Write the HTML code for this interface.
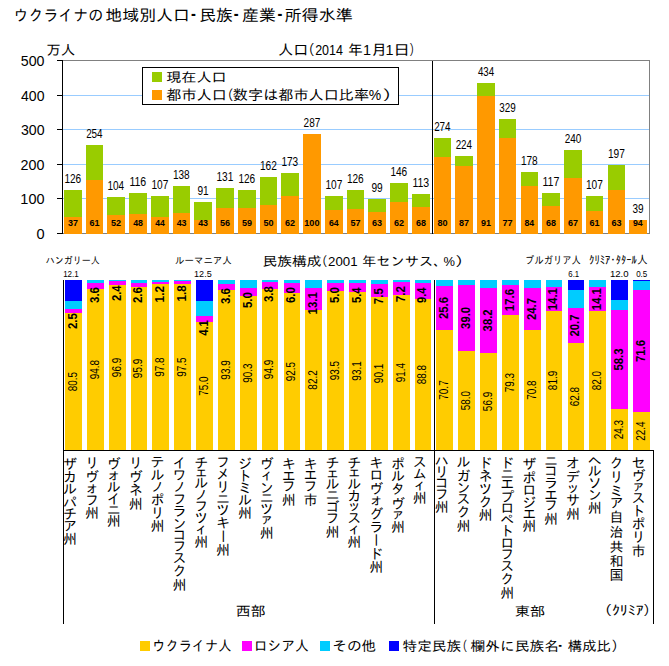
<!DOCTYPE html>
<html lang="ja"><head><meta charset="utf-8"><title>ウクライナの地域別人口・民族・産業・所得水準</title>
<style>html,body{margin:0;padding:0;background:#fff;width:669px;height:666px;overflow:hidden} svg{display:block} text{white-space:pre}</style>
</head><body>
<svg width="669" height="666" viewBox="0 0 669 666" shape-rendering="crispEdges">
<rect x="0" y="0" width="669" height="666" fill="#fff"/>
<rect x="63.00" y="95.00" width="586.00" height="1.00" fill="#99CCFF"/>
<rect x="63.00" y="129.00" width="586.00" height="1.00" fill="#99CCFF"/>
<rect x="63.00" y="164.00" width="586.00" height="1.00" fill="#99CCFF"/>
<rect x="63.00" y="198.00" width="586.00" height="1.00" fill="#99CCFF"/>
<rect x="62.00" y="60.00" width="588.00" height="1.00" fill="#808080"/>
<rect x="62.00" y="233.00" width="588.00" height="1.00" fill="#808080"/>
<rect x="649.00" y="60.00" width="1.00" height="174.00" fill="#808080"/>
<rect x="64.00" y="190.00" width="18.00" height="44.00" fill="#99CC00"/>
<rect x="64.00" y="217.00" width="18.00" height="17.00" fill="#FF9900"/>
<rect x="86.00" y="145.00" width="17.00" height="89.00" fill="#99CC00"/>
<rect x="86.00" y="180.00" width="17.00" height="54.00" fill="#FF9900"/>
<rect x="107.00" y="197.00" width="18.00" height="37.00" fill="#99CC00"/>
<rect x="107.00" y="215.00" width="18.00" height="19.00" fill="#FF9900"/>
<rect x="129.00" y="193.00" width="18.00" height="41.00" fill="#99CC00"/>
<rect x="129.00" y="214.00" width="18.00" height="20.00" fill="#FF9900"/>
<rect x="151.00" y="196.00" width="18.00" height="38.00" fill="#99CC00"/>
<rect x="151.00" y="217.00" width="18.00" height="17.00" fill="#FF9900"/>
<rect x="173.00" y="186.00" width="17.00" height="48.00" fill="#99CC00"/>
<rect x="173.00" y="213.00" width="17.00" height="21.00" fill="#FF9900"/>
<rect x="194.00" y="202.00" width="18.00" height="32.00" fill="#99CC00"/>
<rect x="194.00" y="220.00" width="18.00" height="14.00" fill="#FF9900"/>
<rect x="216.00" y="188.00" width="18.00" height="46.00" fill="#99CC00"/>
<rect x="216.00" y="208.00" width="18.00" height="26.00" fill="#FF9900"/>
<rect x="238.00" y="190.00" width="18.00" height="44.00" fill="#99CC00"/>
<rect x="238.00" y="208.00" width="18.00" height="26.00" fill="#FF9900"/>
<rect x="260.00" y="177.00" width="17.00" height="57.00" fill="#99CC00"/>
<rect x="260.00" y="205.00" width="17.00" height="29.00" fill="#FF9900"/>
<rect x="281.00" y="173.00" width="18.00" height="61.00" fill="#99CC00"/>
<rect x="281.00" y="196.00" width="18.00" height="38.00" fill="#FF9900"/>
<rect x="303.00" y="134.00" width="18.00" height="100.00" fill="#FF9900"/>
<rect x="325.00" y="196.00" width="18.00" height="38.00" fill="#99CC00"/>
<rect x="325.00" y="210.00" width="18.00" height="24.00" fill="#FF9900"/>
<rect x="347.00" y="190.00" width="17.00" height="44.00" fill="#99CC00"/>
<rect x="347.00" y="209.00" width="17.00" height="25.00" fill="#FF9900"/>
<rect x="368.00" y="199.00" width="18.00" height="35.00" fill="#99CC00"/>
<rect x="368.00" y="212.00" width="18.00" height="22.00" fill="#FF9900"/>
<rect x="390.00" y="183.00" width="18.00" height="51.00" fill="#99CC00"/>
<rect x="390.00" y="202.00" width="18.00" height="32.00" fill="#FF9900"/>
<rect x="412.00" y="194.00" width="18.00" height="40.00" fill="#99CC00"/>
<rect x="412.00" y="207.00" width="18.00" height="27.00" fill="#FF9900"/>
<rect x="434.00" y="138.00" width="17.00" height="96.00" fill="#99CC00"/>
<rect x="434.00" y="157.00" width="17.00" height="77.00" fill="#FF9900"/>
<rect x="455.00" y="156.00" width="18.00" height="78.00" fill="#99CC00"/>
<rect x="455.00" y="166.00" width="18.00" height="68.00" fill="#FF9900"/>
<rect x="477.00" y="83.00" width="18.00" height="151.00" fill="#99CC00"/>
<rect x="477.00" y="96.00" width="18.00" height="138.00" fill="#FF9900"/>
<rect x="499.00" y="119.00" width="17.00" height="115.00" fill="#99CC00"/>
<rect x="499.00" y="138.00" width="17.00" height="96.00" fill="#FF9900"/>
<rect x="521.00" y="172.00" width="17.00" height="62.00" fill="#99CC00"/>
<rect x="521.00" y="186.00" width="17.00" height="48.00" fill="#FF9900"/>
<rect x="542.00" y="193.00" width="18.00" height="41.00" fill="#99CC00"/>
<rect x="542.00" y="206.00" width="18.00" height="28.00" fill="#FF9900"/>
<rect x="564.00" y="150.00" width="18.00" height="84.00" fill="#99CC00"/>
<rect x="564.00" y="178.00" width="18.00" height="56.00" fill="#FF9900"/>
<rect x="586.00" y="196.00" width="17.00" height="38.00" fill="#99CC00"/>
<rect x="586.00" y="211.00" width="17.00" height="23.00" fill="#FF9900"/>
<rect x="608.00" y="165.00" width="17.00" height="69.00" fill="#99CC00"/>
<rect x="608.00" y="190.00" width="17.00" height="44.00" fill="#FF9900"/>
<rect x="629.00" y="220.00" width="18.00" height="14.00" fill="#FF9900"/>
<rect x="432.00" y="61.00" width="1.00" height="173.00" fill="#000"/>
<rect x="62.00" y="60.00" width="1.00" height="174.00" fill="#000"/>
<rect x="57.00" y="60.00" width="5.00" height="1.00" fill="#000"/>
<rect x="57.00" y="95.00" width="5.00" height="1.00" fill="#000"/>
<rect x="57.00" y="129.00" width="5.00" height="1.00" fill="#000"/>
<rect x="57.00" y="164.00" width="5.00" height="1.00" fill="#000"/>
<rect x="57.00" y="198.00" width="5.00" height="1.00" fill="#000"/>
<rect x="57.00" y="233.00" width="5.00" height="1.00" fill="#000"/>
<rect x="142.00" y="67.00" width="257.00" height="38.00" fill="#000"/>
<rect x="143.00" y="68.00" width="255.00" height="36.00" fill="#fff"/>
<rect x="152.00" y="72.00" width="10.00" height="10.00" fill="#99CC00"/>
<rect x="152.00" y="90.00" width="10.00" height="10.00" fill="#FF9900"/>
<rect x="65.00" y="313.00" width="17.00" height="137.00" fill="#FFCC00"/>
<rect x="65.00" y="309.00" width="17.00" height="4.00" fill="#FF00FF"/>
<rect x="65.00" y="301.00" width="17.00" height="8.00" fill="#00CCFF"/>
<rect x="65.00" y="280.00" width="17.00" height="21.00" fill="#0000FF"/>
<rect x="87.00" y="289.00" width="17.00" height="161.00" fill="#FFCC00"/>
<rect x="87.00" y="283.00" width="17.00" height="6.00" fill="#FF00FF"/>
<rect x="87.00" y="280.00" width="17.00" height="3.00" fill="#00CCFF"/>
<rect x="109.00" y="285.00" width="17.00" height="165.00" fill="#FFCC00"/>
<rect x="109.00" y="281.00" width="17.00" height="4.00" fill="#FF00FF"/>
<rect x="109.00" y="280.00" width="17.00" height="1.00" fill="#00CCFF"/>
<rect x="131.00" y="287.00" width="16.00" height="163.00" fill="#FFCC00"/>
<rect x="131.00" y="283.00" width="16.00" height="4.00" fill="#FF00FF"/>
<rect x="131.00" y="280.00" width="16.00" height="3.00" fill="#00CCFF"/>
<rect x="152.00" y="284.00" width="17.00" height="166.00" fill="#FFCC00"/>
<rect x="152.00" y="282.00" width="17.00" height="2.00" fill="#FF00FF"/>
<rect x="152.00" y="280.00" width="17.00" height="2.00" fill="#00CCFF"/>
<rect x="174.00" y="284.00" width="17.00" height="166.00" fill="#FFCC00"/>
<rect x="174.00" y="281.00" width="17.00" height="3.00" fill="#FF00FF"/>
<rect x="174.00" y="280.00" width="17.00" height="1.00" fill="#00CCFF"/>
<rect x="196.00" y="322.00" width="17.00" height="128.00" fill="#FFCC00"/>
<rect x="196.00" y="316.00" width="17.00" height="6.00" fill="#FF00FF"/>
<rect x="196.00" y="301.00" width="17.00" height="15.00" fill="#00CCFF"/>
<rect x="196.00" y="280.00" width="17.00" height="21.00" fill="#0000FF"/>
<rect x="218.00" y="290.00" width="17.00" height="160.00" fill="#FFCC00"/>
<rect x="218.00" y="284.00" width="17.00" height="6.00" fill="#FF00FF"/>
<rect x="218.00" y="280.00" width="17.00" height="4.00" fill="#00CCFF"/>
<rect x="240.00" y="296.00" width="17.00" height="154.00" fill="#FFCC00"/>
<rect x="240.00" y="288.00" width="17.00" height="8.00" fill="#FF00FF"/>
<rect x="240.00" y="280.00" width="17.00" height="8.00" fill="#00CCFF"/>
<rect x="262.00" y="289.00" width="16.00" height="161.00" fill="#FFCC00"/>
<rect x="262.00" y="282.00" width="16.00" height="7.00" fill="#FF00FF"/>
<rect x="262.00" y="280.00" width="16.00" height="2.00" fill="#00CCFF"/>
<rect x="284.00" y="293.00" width="16.00" height="157.00" fill="#FFCC00"/>
<rect x="284.00" y="283.00" width="16.00" height="10.00" fill="#FF00FF"/>
<rect x="284.00" y="280.00" width="16.00" height="3.00" fill="#00CCFF"/>
<rect x="305.00" y="310.00" width="17.00" height="140.00" fill="#FFCC00"/>
<rect x="305.00" y="288.00" width="17.00" height="22.00" fill="#FF00FF"/>
<rect x="305.00" y="280.00" width="17.00" height="8.00" fill="#00CCFF"/>
<rect x="327.00" y="291.00" width="17.00" height="159.00" fill="#FFCC00"/>
<rect x="327.00" y="283.00" width="17.00" height="8.00" fill="#FF00FF"/>
<rect x="327.00" y="280.00" width="17.00" height="3.00" fill="#00CCFF"/>
<rect x="349.00" y="292.00" width="17.00" height="158.00" fill="#FFCC00"/>
<rect x="349.00" y="283.00" width="17.00" height="9.00" fill="#FF00FF"/>
<rect x="349.00" y="280.00" width="17.00" height="3.00" fill="#00CCFF"/>
<rect x="371.00" y="297.00" width="17.00" height="153.00" fill="#FFCC00"/>
<rect x="371.00" y="284.00" width="17.00" height="13.00" fill="#FF00FF"/>
<rect x="371.00" y="280.00" width="17.00" height="4.00" fill="#00CCFF"/>
<rect x="393.00" y="295.00" width="17.00" height="155.00" fill="#FFCC00"/>
<rect x="393.00" y="282.00" width="17.00" height="13.00" fill="#FF00FF"/>
<rect x="393.00" y="280.00" width="17.00" height="2.00" fill="#00CCFF"/>
<rect x="415.00" y="299.00" width="16.00" height="151.00" fill="#FFCC00"/>
<rect x="415.00" y="283.00" width="16.00" height="16.00" fill="#FF00FF"/>
<rect x="415.00" y="280.00" width="16.00" height="3.00" fill="#00CCFF"/>
<rect x="436.00" y="330.00" width="17.00" height="120.00" fill="#FFCC00"/>
<rect x="436.00" y="286.00" width="17.00" height="44.00" fill="#FF00FF"/>
<rect x="436.00" y="280.00" width="17.00" height="6.00" fill="#00CCFF"/>
<rect x="458.00" y="351.00" width="17.00" height="99.00" fill="#FFCC00"/>
<rect x="458.00" y="285.00" width="17.00" height="66.00" fill="#FF00FF"/>
<rect x="458.00" y="280.00" width="17.00" height="5.00" fill="#00CCFF"/>
<rect x="480.00" y="353.00" width="17.00" height="97.00" fill="#FFCC00"/>
<rect x="480.00" y="288.00" width="17.00" height="65.00" fill="#FF00FF"/>
<rect x="480.00" y="280.00" width="17.00" height="8.00" fill="#00CCFF"/>
<rect x="502.00" y="315.00" width="17.00" height="135.00" fill="#FFCC00"/>
<rect x="502.00" y="285.00" width="17.00" height="30.00" fill="#FF00FF"/>
<rect x="502.00" y="280.00" width="17.00" height="5.00" fill="#00CCFF"/>
<rect x="524.00" y="330.00" width="17.00" height="120.00" fill="#FFCC00"/>
<rect x="524.00" y="288.00" width="17.00" height="42.00" fill="#FF00FF"/>
<rect x="524.00" y="280.00" width="17.00" height="8.00" fill="#00CCFF"/>
<rect x="546.00" y="311.00" width="16.00" height="139.00" fill="#FFCC00"/>
<rect x="546.00" y="287.00" width="16.00" height="24.00" fill="#FF00FF"/>
<rect x="546.00" y="280.00" width="16.00" height="7.00" fill="#00CCFF"/>
<rect x="568.00" y="343.00" width="16.00" height="107.00" fill="#FFCC00"/>
<rect x="568.00" y="308.00" width="16.00" height="35.00" fill="#FF00FF"/>
<rect x="568.00" y="290.00" width="16.00" height="18.00" fill="#00CCFF"/>
<rect x="568.00" y="280.00" width="16.00" height="10.00" fill="#0000FF"/>
<rect x="589.00" y="311.00" width="17.00" height="139.00" fill="#FFCC00"/>
<rect x="589.00" y="287.00" width="17.00" height="24.00" fill="#FF00FF"/>
<rect x="589.00" y="280.00" width="17.00" height="7.00" fill="#00CCFF"/>
<rect x="611.00" y="409.00" width="17.00" height="41.00" fill="#FFCC00"/>
<rect x="611.00" y="310.00" width="17.00" height="99.00" fill="#FF00FF"/>
<rect x="611.00" y="300.00" width="17.00" height="10.00" fill="#00CCFF"/>
<rect x="611.00" y="280.00" width="17.00" height="20.00" fill="#0000FF"/>
<rect x="633.00" y="412.00" width="17.00" height="38.00" fill="#FFCC00"/>
<rect x="633.00" y="290.00" width="17.00" height="122.00" fill="#FF00FF"/>
<rect x="633.00" y="281.00" width="17.00" height="9.00" fill="#00CCFF"/>
<rect x="633.00" y="280.00" width="17.00" height="1.00" fill="#0000FF"/>
<rect x="434.00" y="280.00" width="1.00" height="344.00" fill="#000"/>
<rect x="63.00" y="280.00" width="1.00" height="344.00" fill="#000"/>
<rect x="653.00" y="450.00" width="1.00" height="174.00" fill="#000"/>
<rect x="63.00" y="450.00" width="591.00" height="1.00" fill="#000"/>
<rect x="140.00" y="641.00" width="10.00" height="10.00" fill="#FFCC00"/>
<rect x="242.00" y="641.00" width="10.00" height="10.00" fill="#FF00FF"/>
<rect x="320.00" y="641.00" width="10.00" height="10.00" fill="#00CCFF"/>
<rect x="389.00" y="641.00" width="10.00" height="10.00" fill="#0000FF"/>
<g shape-rendering="auto">
<text font-family="'Liberation Sans', sans-serif" font-weight="normal" font-size="11.97" fill="#000"><tspan x="64.42" y="182.88" textLength="16.82" lengthAdjust="spacingAndGlyphs">126</tspan></text>
<text font-family="'Liberation Sans', sans-serif" font-weight="bold" font-size="9.86" fill="#000"><tspan x="68.07" y="226.10" textLength="10.01" lengthAdjust="spacingAndGlyphs">37</tspan></text>
<text font-family="'Liberation Sans', sans-serif" font-weight="normal" font-size="11.97" fill="#000"><tspan x="86.13" y="137.88" textLength="16.50" lengthAdjust="spacingAndGlyphs">254</tspan></text>
<text font-family="'Liberation Sans', sans-serif" font-weight="bold" font-size="9.86" fill="#000"><tspan x="89.48" y="226.10" textLength="10.01" lengthAdjust="spacingAndGlyphs">61</tspan></text>
<text font-family="'Liberation Sans', sans-serif" font-weight="normal" font-size="11.97" fill="#000"><tspan x="107.42" y="189.88" textLength="16.71" lengthAdjust="spacingAndGlyphs">104</tspan></text>
<text font-family="'Liberation Sans', sans-serif" font-weight="bold" font-size="9.86" fill="#000"><tspan x="110.98" y="226.10" textLength="10.10" lengthAdjust="spacingAndGlyphs">52</tspan></text>
<text font-family="'Liberation Sans', sans-serif" font-weight="normal" font-size="11.97" fill="#000"><tspan x="129.38" y="185.88" textLength="16.87" lengthAdjust="spacingAndGlyphs">116</tspan></text>
<text font-family="'Liberation Sans', sans-serif" font-weight="bold" font-size="9.86" fill="#000"><tspan x="133.16" y="226.10" textLength="9.82" lengthAdjust="spacingAndGlyphs">48</tspan></text>
<text font-family="'Liberation Sans', sans-serif" font-weight="normal" font-size="11.97" fill="#000"><tspan x="151.41" y="188.88" textLength="16.93" lengthAdjust="spacingAndGlyphs">107</tspan></text>
<text font-family="'Liberation Sans', sans-serif" font-weight="bold" font-size="9.86" fill="#000"><tspan x="155.16" y="226.10" textLength="9.55" lengthAdjust="spacingAndGlyphs">44</tspan></text>
<text font-family="'Liberation Sans', sans-serif" font-weight="normal" font-size="11.97" fill="#000"><tspan x="172.92" y="178.88" textLength="16.82" lengthAdjust="spacingAndGlyphs">138</tspan></text>
<text font-family="'Liberation Sans', sans-serif" font-weight="bold" font-size="9.86" fill="#000"><tspan x="176.66" y="226.10" textLength="9.91" lengthAdjust="spacingAndGlyphs">43</tspan></text>
<text font-family="'Liberation Sans', sans-serif" font-weight="normal" font-size="11.97" fill="#000"><tspan x="197.39" y="194.88" textLength="11.27" lengthAdjust="spacingAndGlyphs">91</tspan></text>
<text font-family="'Liberation Sans', sans-serif" font-weight="bold" font-size="9.86" fill="#000"><tspan x="198.16" y="226.10" textLength="9.91" lengthAdjust="spacingAndGlyphs">43</tspan></text>
<text font-family="'Liberation Sans', sans-serif" font-weight="normal" font-size="11.97" fill="#000"><tspan x="216.41" y="180.88" textLength="16.93" lengthAdjust="spacingAndGlyphs">131</tspan></text>
<text font-family="'Liberation Sans', sans-serif" font-weight="bold" font-size="9.86" fill="#000"><tspan x="219.98" y="226.10" textLength="10.10" lengthAdjust="spacingAndGlyphs">56</tspan></text>
<text font-family="'Liberation Sans', sans-serif" font-weight="normal" font-size="11.97" fill="#000"><tspan x="238.42" y="182.88" textLength="16.82" lengthAdjust="spacingAndGlyphs">126</tspan></text>
<text font-family="'Liberation Sans', sans-serif" font-weight="bold" font-size="9.86" fill="#000"><tspan x="241.98" y="226.10" textLength="10.10" lengthAdjust="spacingAndGlyphs">59</tspan></text>
<text font-family="'Liberation Sans', sans-serif" font-weight="normal" font-size="11.97" fill="#000"><tspan x="259.91" y="169.88" textLength="16.93" lengthAdjust="spacingAndGlyphs">162</tspan></text>
<text font-family="'Liberation Sans', sans-serif" font-weight="bold" font-size="9.86" fill="#000"><tspan x="263.48" y="226.10" textLength="10.10" lengthAdjust="spacingAndGlyphs">50</tspan></text>
<text font-family="'Liberation Sans', sans-serif" font-weight="normal" font-size="11.97" fill="#000"><tspan x="281.42" y="165.88" textLength="16.82" lengthAdjust="spacingAndGlyphs">173</tspan></text>
<text font-family="'Liberation Sans', sans-serif" font-weight="bold" font-size="9.86" fill="#000"><tspan x="284.98" y="226.10" textLength="10.10" lengthAdjust="spacingAndGlyphs">62</tspan></text>
<text font-family="'Liberation Sans', sans-serif" font-weight="normal" font-size="11.97" fill="#000"><tspan x="303.62" y="126.88" textLength="16.71" lengthAdjust="spacingAndGlyphs">287</tspan></text>
<text font-family="'Liberation Sans', sans-serif" font-weight="bold" font-size="9.86" fill="#000"><tspan x="304.28" y="226.10" textLength="15.23" lengthAdjust="spacingAndGlyphs">100</tspan></text>
<text font-family="'Liberation Sans', sans-serif" font-weight="normal" font-size="11.97" fill="#000"><tspan x="325.41" y="188.88" textLength="16.93" lengthAdjust="spacingAndGlyphs">107</tspan></text>
<text font-family="'Liberation Sans', sans-serif" font-weight="bold" font-size="9.86" fill="#000"><tspan x="328.99" y="226.10" textLength="9.73" lengthAdjust="spacingAndGlyphs">64</tspan></text>
<text font-family="'Liberation Sans', sans-serif" font-weight="normal" font-size="11.97" fill="#000"><tspan x="346.92" y="182.88" textLength="16.82" lengthAdjust="spacingAndGlyphs">126</tspan></text>
<text font-family="'Liberation Sans', sans-serif" font-weight="bold" font-size="9.86" fill="#000"><tspan x="350.48" y="226.10" textLength="10.10" lengthAdjust="spacingAndGlyphs">57</tspan></text>
<text font-family="'Liberation Sans', sans-serif" font-weight="normal" font-size="11.97" fill="#000"><tspan x="371.39" y="191.88" textLength="11.27" lengthAdjust="spacingAndGlyphs">99</tspan></text>
<text font-family="'Liberation Sans', sans-serif" font-weight="bold" font-size="9.86" fill="#000"><tspan x="371.98" y="226.10" textLength="10.10" lengthAdjust="spacingAndGlyphs">63</tspan></text>
<text font-family="'Liberation Sans', sans-serif" font-weight="normal" font-size="11.97" fill="#000"><tspan x="390.42" y="175.88" textLength="16.82" lengthAdjust="spacingAndGlyphs">146</tspan></text>
<text font-family="'Liberation Sans', sans-serif" font-weight="bold" font-size="9.86" fill="#000"><tspan x="393.98" y="226.10" textLength="10.10" lengthAdjust="spacingAndGlyphs">62</tspan></text>
<text font-family="'Liberation Sans', sans-serif" font-weight="normal" font-size="11.97" fill="#000"><tspan x="412.38" y="186.88" textLength="16.87" lengthAdjust="spacingAndGlyphs">113</tspan></text>
<text font-family="'Liberation Sans', sans-serif" font-weight="bold" font-size="9.86" fill="#000"><tspan x="415.98" y="226.10" textLength="10.01" lengthAdjust="spacingAndGlyphs">68</tspan></text>
<text font-family="'Liberation Sans', sans-serif" font-weight="normal" font-size="11.97" fill="#000"><tspan x="434.13" y="130.88" textLength="16.50" lengthAdjust="spacingAndGlyphs">274</tspan></text>
<text font-family="'Liberation Sans', sans-serif" font-weight="bold" font-size="9.86" fill="#000"><tspan x="437.48" y="226.10" textLength="10.10" lengthAdjust="spacingAndGlyphs">80</tspan></text>
<text font-family="'Liberation Sans', sans-serif" font-weight="normal" font-size="11.97" fill="#000"><tspan x="455.63" y="148.88" textLength="16.50" lengthAdjust="spacingAndGlyphs">224</tspan></text>
<text font-family="'Liberation Sans', sans-serif" font-weight="bold" font-size="9.86" fill="#000"><tspan x="458.98" y="226.10" textLength="10.10" lengthAdjust="spacingAndGlyphs">87</tspan></text>
<text font-family="'Liberation Sans', sans-serif" font-weight="normal" font-size="11.97" fill="#000"><tspan x="477.93" y="75.88" textLength="16.20" lengthAdjust="spacingAndGlyphs">434</tspan></text>
<text font-family="'Liberation Sans', sans-serif" font-weight="bold" font-size="9.86" fill="#000"><tspan x="480.98" y="226.10" textLength="10.01" lengthAdjust="spacingAndGlyphs">91</tspan></text>
<text font-family="'Liberation Sans', sans-serif" font-weight="normal" font-size="11.97" fill="#000"><tspan x="499.33" y="111.88" textLength="16.50" lengthAdjust="spacingAndGlyphs">329</tspan></text>
<text font-family="'Liberation Sans', sans-serif" font-weight="bold" font-size="9.86" fill="#000"><tspan x="502.38" y="226.10" textLength="10.20" lengthAdjust="spacingAndGlyphs">77</tspan></text>
<text font-family="'Liberation Sans', sans-serif" font-weight="normal" font-size="11.97" fill="#000"><tspan x="520.92" y="164.88" textLength="16.82" lengthAdjust="spacingAndGlyphs">178</tspan></text>
<text font-family="'Liberation Sans', sans-serif" font-weight="bold" font-size="9.86" fill="#000"><tspan x="524.49" y="226.10" textLength="9.73" lengthAdjust="spacingAndGlyphs">84</tspan></text>
<text font-family="'Liberation Sans', sans-serif" font-weight="normal" font-size="11.97" fill="#000"><tspan x="542.38" y="185.88" textLength="16.99" lengthAdjust="spacingAndGlyphs">117</tspan></text>
<text font-family="'Liberation Sans', sans-serif" font-weight="bold" font-size="9.86" fill="#000"><tspan x="545.98" y="226.10" textLength="10.01" lengthAdjust="spacingAndGlyphs">68</tspan></text>
<text font-family="'Liberation Sans', sans-serif" font-weight="normal" font-size="11.97" fill="#000"><tspan x="564.63" y="142.88" textLength="16.61" lengthAdjust="spacingAndGlyphs">240</tspan></text>
<text font-family="'Liberation Sans', sans-serif" font-weight="bold" font-size="9.86" fill="#000"><tspan x="567.98" y="226.10" textLength="10.10" lengthAdjust="spacingAndGlyphs">67</tspan></text>
<text font-family="'Liberation Sans', sans-serif" font-weight="normal" font-size="11.97" fill="#000"><tspan x="585.91" y="188.88" textLength="16.93" lengthAdjust="spacingAndGlyphs">107</tspan></text>
<text font-family="'Liberation Sans', sans-serif" font-weight="bold" font-size="9.86" fill="#000"><tspan x="589.48" y="226.10" textLength="10.01" lengthAdjust="spacingAndGlyphs">61</tspan></text>
<text font-family="'Liberation Sans', sans-serif" font-weight="normal" font-size="11.97" fill="#000"><tspan x="607.91" y="157.88" textLength="16.93" lengthAdjust="spacingAndGlyphs">197</tspan></text>
<text font-family="'Liberation Sans', sans-serif" font-weight="bold" font-size="9.86" fill="#000"><tspan x="611.48" y="226.10" textLength="10.10" lengthAdjust="spacingAndGlyphs">63</tspan></text>
<text font-family="'Liberation Sans', sans-serif" font-weight="normal" font-size="11.97" fill="#000"><tspan x="632.50" y="212.88" textLength="11.16" lengthAdjust="spacingAndGlyphs">39</tspan></text>
<text font-family="'Liberation Sans', sans-serif" font-weight="bold" font-size="9.86" fill="#000"><tspan x="632.99" y="226.10" textLength="9.73" lengthAdjust="spacingAndGlyphs">94</tspan></text>
<text font-family="'Liberation Sans', 'IPAGothic', sans-serif" font-weight="normal" font-size="13.19" fill="#000"><tspan x="166.19" y="81.75" textLength="60.58" lengthAdjust="spacingAndGlyphs">現在人口</tspan></text>
<text font-family="'Liberation Sans', 'IPAGothic', sans-serif" font-weight="normal" font-size="14.02" fill="#000"><tspan x="166.35" y="99.58" textLength="60.52" lengthAdjust="spacingAndGlyphs">都市人口</tspan><tspan x="220.64" y="99.58" textLength="12.86" lengthAdjust="spacingAndGlyphs">（</tspan><tspan x="232.89" y="99.58" textLength="136.16" lengthAdjust="spacingAndGlyphs">数字は都市人口比率</tspan><tspan x="368.78" y="99.58" textLength="12.43" lengthAdjust="spacingAndGlyphs">%</tspan><tspan x="382.15" y="99.58" textLength="19.29" lengthAdjust="spacingAndGlyphs">）</tspan></text>
<text font-family="'Liberation Sans', sans-serif" font-weight="normal" font-size="14.08" fill="#000"><tspan x="20.78" y="65.86" textLength="23.73" lengthAdjust="spacingAndGlyphs">500</tspan></text>
<text font-family="'Liberation Sans', sans-serif" font-weight="normal" font-size="14.08" fill="#000"><tspan x="21.07" y="100.86" textLength="23.44" lengthAdjust="spacingAndGlyphs">400</tspan></text>
<text font-family="'Liberation Sans', sans-serif" font-weight="normal" font-size="14.08" fill="#000"><tspan x="20.93" y="134.86" textLength="23.59" lengthAdjust="spacingAndGlyphs">300</tspan></text>
<text font-family="'Liberation Sans', sans-serif" font-weight="normal" font-size="14.08" fill="#000"><tspan x="20.63" y="169.86" textLength="23.88" lengthAdjust="spacingAndGlyphs">200</tspan></text>
<text font-family="'Liberation Sans', sans-serif" font-weight="normal" font-size="14.08" fill="#000"><tspan x="20.34" y="203.86" textLength="24.19" lengthAdjust="spacingAndGlyphs">100</tspan></text>
<text font-family="'Liberation Sans', sans-serif" font-weight="normal" font-size="14.08" fill="#000"><tspan x="36.41" y="238.86" textLength="8.12" lengthAdjust="spacingAndGlyphs">0</tspan></text>
<text font-family="'Liberation Sans', 'IPAGothic', sans-serif" font-weight="normal" font-size="13.79" fill="#000"><tspan x="46.28" y="54.83" textLength="29.04" lengthAdjust="spacingAndGlyphs">万人</tspan></text>
<text font-family="'Liberation Sans', 'IPAGothic', sans-serif" font-weight="normal" font-size="14.40" fill="#000"><tspan x="278.09" y="54.65" textLength="30.39" lengthAdjust="spacingAndGlyphs">人口</tspan><tspan x="301.41" y="54.65" textLength="13.21" lengthAdjust="spacingAndGlyphs">（</tspan><tspan x="315.18" y="54.65" textLength="27.75" lengthAdjust="spacingAndGlyphs">2014</tspan><tspan x="348.12" y="54.65" textLength="14.72" lengthAdjust="spacingAndGlyphs">年</tspan><tspan x="362.89" y="54.65">1</tspan><tspan x="371.15" y="54.65" textLength="15.88" lengthAdjust="spacingAndGlyphs">月</tspan><tspan x="385.59" y="54.65">1</tspan><tspan x="393.16" y="54.65" textLength="16.88" lengthAdjust="spacingAndGlyphs">日</tspan><tspan x="409.25" y="54.65" textLength="10.71" lengthAdjust="spacingAndGlyphs">）</tspan></text>
<text font-family="'Liberation Sans', 'IPAGothic', sans-serif" font-weight="normal" font-size="15.91" fill="#000"><tspan x="13.62" y="21.17" textLength="89.43" lengthAdjust="spacingAndGlyphs">ウクライナの</tspan><tspan x="105.35" y="21.17" textLength="84.58" lengthAdjust="spacingAndGlyphs">地域別人口</tspan><tspan x="179.62" y="21.17" textLength="27.86" lengthAdjust="spacingAndGlyphs">・</tspan><tspan x="199.19" y="21.17" textLength="33.58" lengthAdjust="spacingAndGlyphs">民族</tspan><tspan x="222.22" y="21.17" textLength="27.86" lengthAdjust="spacingAndGlyphs">・</tspan><tspan x="242.13" y="21.17" textLength="33.72" lengthAdjust="spacingAndGlyphs">産業</tspan><tspan x="266.12" y="21.17" textLength="27.86" lengthAdjust="spacingAndGlyphs">・</tspan><tspan x="284.52" y="21.17" textLength="68.34" lengthAdjust="spacingAndGlyphs">所得水準</tspan></text>
<text transform="translate(72.50 381.50) rotate(-90)" font-family="'Liberation Sans', sans-serif" font-weight="normal" font-size="12.68" fill="#000"><tspan x="-9.65" y="4.37" textLength="19.25" lengthAdjust="spacingAndGlyphs">80.5</tspan></text>
<text transform="translate(72.50 321.10) rotate(-90)" font-family="'Liberation Sans', sans-serif" font-weight="bold" font-size="12.68" fill="#000"><tspan x="-7.94" y="4.37" textLength="15.84" lengthAdjust="spacingAndGlyphs">2.5</tspan></text>
<text transform="translate(94.50 369.50) rotate(-90)" font-family="'Liberation Sans', sans-serif" font-weight="normal" font-size="12.68" fill="#000"><tspan x="-9.65" y="4.37" textLength="19.25" lengthAdjust="spacingAndGlyphs">94.8</tspan></text>
<text transform="translate(94.50 295.10) rotate(-90)" font-family="'Liberation Sans', sans-serif" font-weight="bold" font-size="12.68" fill="#000"><tspan x="-7.83" y="4.37" textLength="15.84" lengthAdjust="spacingAndGlyphs">3.6</tspan></text>
<text transform="translate(116.50 367.50) rotate(-90)" font-family="'Liberation Sans', sans-serif" font-weight="normal" font-size="12.68" fill="#000"><tspan x="-9.65" y="4.37" textLength="19.36" lengthAdjust="spacingAndGlyphs">96.9</tspan></text>
<text transform="translate(116.50 293.10) rotate(-90)" font-family="'Liberation Sans', sans-serif" font-weight="bold" font-size="12.68" fill="#000"><tspan x="-7.93" y="4.37" textLength="15.49" lengthAdjust="spacingAndGlyphs">2.4</tspan></text>
<text transform="translate(138.00 368.50) rotate(-90)" font-family="'Liberation Sans', sans-serif" font-weight="normal" font-size="12.68" fill="#000"><tspan x="-9.65" y="4.37" textLength="19.36" lengthAdjust="spacingAndGlyphs">95.9</tspan></text>
<text transform="translate(138.00 295.10) rotate(-90)" font-family="'Liberation Sans', sans-serif" font-weight="bold" font-size="12.68" fill="#000"><tspan x="-7.94" y="4.37" textLength="15.96" lengthAdjust="spacingAndGlyphs">2.6</tspan></text>
<text transform="translate(159.50 367.00) rotate(-90)" font-family="'Liberation Sans', sans-serif" font-weight="normal" font-size="12.68" fill="#000"><tspan x="-9.65" y="4.37" textLength="19.25" lengthAdjust="spacingAndGlyphs">97.8</tspan></text>
<text transform="translate(159.50 294.10) rotate(-90)" font-family="'Liberation Sans', sans-serif" font-weight="bold" font-size="12.68" fill="#000"><tspan x="-8.30" y="4.37" textLength="16.33" lengthAdjust="spacingAndGlyphs">1.2</tspan></text>
<text transform="translate(181.50 367.00) rotate(-90)" font-family="'Liberation Sans', sans-serif" font-weight="normal" font-size="12.68" fill="#000"><tspan x="-9.65" y="4.37" textLength="19.25" lengthAdjust="spacingAndGlyphs">97.5</tspan></text>
<text transform="translate(181.50 293.10) rotate(-90)" font-family="'Liberation Sans', sans-serif" font-weight="bold" font-size="12.68" fill="#000"><tspan x="-8.30" y="4.37" textLength="16.20" lengthAdjust="spacingAndGlyphs">1.8</tspan></text>
<text transform="translate(203.50 386.00) rotate(-90)" font-family="'Liberation Sans', sans-serif" font-weight="normal" font-size="12.68" fill="#000"><tspan x="-9.75" y="4.37" textLength="19.36" lengthAdjust="spacingAndGlyphs">75.0</tspan></text>
<text transform="translate(203.50 328.10) rotate(-90)" font-family="'Liberation Sans', sans-serif" font-weight="bold" font-size="12.68" fill="#000"><tspan x="-7.71" y="4.37" textLength="15.61" lengthAdjust="spacingAndGlyphs">4.1</tspan></text>
<text transform="translate(225.50 370.00) rotate(-90)" font-family="'Liberation Sans', sans-serif" font-weight="normal" font-size="12.68" fill="#000"><tspan x="-9.65" y="4.37" textLength="19.36" lengthAdjust="spacingAndGlyphs">93.9</tspan></text>
<text transform="translate(225.50 296.10) rotate(-90)" font-family="'Liberation Sans', sans-serif" font-weight="bold" font-size="12.68" fill="#000"><tspan x="-7.83" y="4.37" textLength="15.84" lengthAdjust="spacingAndGlyphs">3.6</tspan></text>
<text transform="translate(247.50 373.00) rotate(-90)" font-family="'Liberation Sans', sans-serif" font-weight="normal" font-size="12.68" fill="#000"><tspan x="-9.65" y="4.37" textLength="19.25" lengthAdjust="spacingAndGlyphs">90.3</tspan></text>
<text transform="translate(247.50 300.10) rotate(-90)" font-family="'Liberation Sans', sans-serif" font-weight="bold" font-size="12.68" fill="#000"><tspan x="-7.94" y="4.37" textLength="15.96" lengthAdjust="spacingAndGlyphs">5.0</tspan></text>
<text transform="translate(269.00 369.50) rotate(-90)" font-family="'Liberation Sans', sans-serif" font-weight="normal" font-size="12.68" fill="#000"><tspan x="-9.65" y="4.37" textLength="19.36" lengthAdjust="spacingAndGlyphs">94.9</tspan></text>
<text transform="translate(269.00 294.10) rotate(-90)" font-family="'Liberation Sans', sans-serif" font-weight="bold" font-size="12.68" fill="#000"><tspan x="-7.83" y="4.37" textLength="15.72" lengthAdjust="spacingAndGlyphs">3.8</tspan></text>
<text transform="translate(291.00 371.50) rotate(-90)" font-family="'Liberation Sans', sans-serif" font-weight="normal" font-size="12.68" fill="#000"><tspan x="-9.65" y="4.37" textLength="19.25" lengthAdjust="spacingAndGlyphs">92.5</tspan></text>
<text transform="translate(291.00 295.10) rotate(-90)" font-family="'Liberation Sans', sans-serif" font-weight="bold" font-size="12.68" fill="#000"><tspan x="-7.94" y="4.37" textLength="15.96" lengthAdjust="spacingAndGlyphs">6.0</tspan></text>
<text transform="translate(312.50 380.00) rotate(-90)" font-family="'Liberation Sans', sans-serif" font-weight="normal" font-size="12.68" fill="#000"><tspan x="-9.65" y="4.37" textLength="19.36" lengthAdjust="spacingAndGlyphs">82.2</tspan></text>
<text transform="translate(312.50 303.15) rotate(-90)" font-family="'Liberation Sans', sans-serif" font-weight="bold" font-size="12.68" fill="#000"><tspan x="-11.34" y="4.37" textLength="22.29" lengthAdjust="spacingAndGlyphs">13.1</tspan></text>
<text transform="translate(334.50 370.50) rotate(-90)" font-family="'Liberation Sans', sans-serif" font-weight="normal" font-size="12.68" fill="#000"><tspan x="-9.65" y="4.37" textLength="19.25" lengthAdjust="spacingAndGlyphs">93.5</tspan></text>
<text transform="translate(334.50 295.10) rotate(-90)" font-family="'Liberation Sans', sans-serif" font-weight="bold" font-size="12.68" fill="#000"><tspan x="-7.94" y="4.37" textLength="15.96" lengthAdjust="spacingAndGlyphs">5.0</tspan></text>
<text transform="translate(356.50 371.00) rotate(-90)" font-family="'Liberation Sans', sans-serif" font-weight="normal" font-size="12.68" fill="#000"><tspan x="-9.65" y="4.37" textLength="19.36" lengthAdjust="spacingAndGlyphs">93.1</tspan></text>
<text transform="translate(356.50 295.10) rotate(-90)" font-family="'Liberation Sans', sans-serif" font-weight="bold" font-size="12.68" fill="#000"><tspan x="-7.93" y="4.37" textLength="15.49" lengthAdjust="spacingAndGlyphs">5.4</tspan></text>
<text transform="translate(378.50 373.50) rotate(-90)" font-family="'Liberation Sans', sans-serif" font-weight="normal" font-size="12.68" fill="#000"><tspan x="-9.65" y="4.37" textLength="19.36" lengthAdjust="spacingAndGlyphs">90.1</tspan></text>
<text transform="translate(378.50 296.10) rotate(-90)" font-family="'Liberation Sans', sans-serif" font-weight="bold" font-size="12.68" fill="#000"><tspan x="-8.06" y="4.37" textLength="15.96" lengthAdjust="spacingAndGlyphs">7.5</tspan></text>
<text transform="translate(400.50 372.50) rotate(-90)" font-family="'Liberation Sans', sans-serif" font-weight="normal" font-size="12.68" fill="#000"><tspan x="-9.64" y="4.37" textLength="19.15" lengthAdjust="spacingAndGlyphs">91.4</tspan></text>
<text transform="translate(400.50 294.10) rotate(-90)" font-family="'Liberation Sans', sans-serif" font-weight="bold" font-size="12.68" fill="#000"><tspan x="-8.06" y="4.37" textLength="16.08" lengthAdjust="spacingAndGlyphs">7.2</tspan></text>
<text transform="translate(422.00 374.50) rotate(-90)" font-family="'Liberation Sans', sans-serif" font-weight="normal" font-size="12.68" fill="#000"><tspan x="-9.65" y="4.37" textLength="19.25" lengthAdjust="spacingAndGlyphs">88.8</tspan></text>
<text transform="translate(422.00 295.10) rotate(-90)" font-family="'Liberation Sans', sans-serif" font-weight="bold" font-size="12.68" fill="#000"><tspan x="-7.93" y="4.37" textLength="15.49" lengthAdjust="spacingAndGlyphs">9.4</tspan></text>
<text transform="translate(443.50 390.00) rotate(-90)" font-family="'Liberation Sans', sans-serif" font-weight="normal" font-size="12.68" fill="#000"><tspan x="-9.75" y="4.37" textLength="19.46" lengthAdjust="spacingAndGlyphs">70.7</tspan></text>
<text transform="translate(443.50 308.00) rotate(-90)" font-family="'Liberation Sans', sans-serif" font-weight="bold" font-size="12.68" fill="#000"><tspan x="-10.99" y="4.37" textLength="22.05" lengthAdjust="spacingAndGlyphs">25.6</tspan></text>
<text transform="translate(465.50 400.50) rotate(-90)" font-family="'Liberation Sans', sans-serif" font-weight="normal" font-size="12.68" fill="#000"><tspan x="-9.65" y="4.37" textLength="19.25" lengthAdjust="spacingAndGlyphs">58.0</tspan></text>
<text transform="translate(465.50 318.00) rotate(-90)" font-family="'Liberation Sans', sans-serif" font-weight="bold" font-size="12.68" fill="#000"><tspan x="-10.88" y="4.37" textLength="21.93" lengthAdjust="spacingAndGlyphs">39.0</tspan></text>
<text transform="translate(487.50 401.50) rotate(-90)" font-family="'Liberation Sans', sans-serif" font-weight="normal" font-size="12.68" fill="#000"><tspan x="-9.65" y="4.37" textLength="19.36" lengthAdjust="spacingAndGlyphs">56.9</tspan></text>
<text transform="translate(487.50 320.50) rotate(-90)" font-family="'Liberation Sans', sans-serif" font-weight="bold" font-size="12.68" fill="#000"><tspan x="-10.88" y="4.37" textLength="21.93" lengthAdjust="spacingAndGlyphs">38.2</tspan></text>
<text transform="translate(509.50 382.50) rotate(-90)" font-family="'Liberation Sans', sans-serif" font-weight="normal" font-size="12.68" fill="#000"><tspan x="-9.75" y="4.37" textLength="19.36" lengthAdjust="spacingAndGlyphs">79.3</tspan></text>
<text transform="translate(509.50 300.00) rotate(-90)" font-family="'Liberation Sans', sans-serif" font-weight="bold" font-size="12.68" fill="#000"><tspan x="-11.34" y="4.37" textLength="22.41" lengthAdjust="spacingAndGlyphs">17.6</tspan></text>
<text transform="translate(531.50 390.00) rotate(-90)" font-family="'Liberation Sans', sans-serif" font-weight="normal" font-size="12.68" fill="#000"><tspan x="-9.75" y="4.37" textLength="19.36" lengthAdjust="spacingAndGlyphs">70.8</tspan></text>
<text transform="translate(531.50 309.00) rotate(-90)" font-family="'Liberation Sans', sans-serif" font-weight="bold" font-size="12.68" fill="#000"><tspan x="-10.99" y="4.37" textLength="22.05" lengthAdjust="spacingAndGlyphs">24.7</tspan></text>
<text transform="translate(553.00 380.50) rotate(-90)" font-family="'Liberation Sans', sans-serif" font-weight="normal" font-size="12.68" fill="#000"><tspan x="-9.65" y="4.37" textLength="19.36" lengthAdjust="spacingAndGlyphs">81.9</tspan></text>
<text transform="translate(553.00 299.00) rotate(-90)" font-family="'Liberation Sans', sans-serif" font-weight="bold" font-size="12.68" fill="#000"><tspan x="-11.34" y="4.37" textLength="22.29" lengthAdjust="spacingAndGlyphs">14.1</tspan></text>
<text transform="translate(575.00 396.50) rotate(-90)" font-family="'Liberation Sans', sans-serif" font-weight="normal" font-size="12.68" fill="#000"><tspan x="-9.75" y="4.37" textLength="19.36" lengthAdjust="spacingAndGlyphs">62.8</tspan></text>
<text transform="translate(575.00 325.50) rotate(-90)" font-family="'Liberation Sans', sans-serif" font-weight="bold" font-size="12.68" fill="#000"><tspan x="-10.99" y="4.37" textLength="22.05" lengthAdjust="spacingAndGlyphs">20.7</tspan></text>
<text transform="translate(596.50 380.50) rotate(-90)" font-family="'Liberation Sans', sans-serif" font-weight="normal" font-size="12.68" fill="#000"><tspan x="-9.65" y="4.37" textLength="19.25" lengthAdjust="spacingAndGlyphs">82.0</tspan></text>
<text transform="translate(596.50 299.00) rotate(-90)" font-family="'Liberation Sans', sans-serif" font-weight="bold" font-size="12.68" fill="#000"><tspan x="-11.34" y="4.37" textLength="22.29" lengthAdjust="spacingAndGlyphs">14.1</tspan></text>
<text transform="translate(618.50 429.50) rotate(-90)" font-family="'Liberation Sans', sans-serif" font-weight="normal" font-size="12.68" fill="#000"><tspan x="-9.75" y="4.37" textLength="19.36" lengthAdjust="spacingAndGlyphs">24.3</tspan></text>
<text transform="translate(618.50 359.50) rotate(-90)" font-family="'Liberation Sans', sans-serif" font-weight="bold" font-size="12.68" fill="#000"><tspan x="-10.99" y="4.37" textLength="22.05" lengthAdjust="spacingAndGlyphs">58.3</tspan></text>
<text transform="translate(640.50 431.00) rotate(-90)" font-family="'Liberation Sans', sans-serif" font-weight="normal" font-size="12.68" fill="#000"><tspan x="-9.74" y="4.37" textLength="19.25" lengthAdjust="spacingAndGlyphs">22.4</tspan></text>
<text transform="translate(640.50 351.00) rotate(-90)" font-family="'Liberation Sans', sans-serif" font-weight="bold" font-size="12.68" fill="#000"><tspan x="-11.11" y="4.37" textLength="22.17" lengthAdjust="spacingAndGlyphs">71.6</tspan></text>
<text font-family="'Liberation Sans', 'IPAGothic', sans-serif" font-weight="normal" font-size="9.89" fill="#000"><tspan x="45.76" y="263.61" textLength="53.89" lengthAdjust="spacingAndGlyphs">ハンガリー人</tspan></text>
<text font-family="'Liberation Sans', sans-serif" font-weight="normal" font-size="9.72" fill="#000"><tspan x="63.14" y="276.90" textLength="15.63" lengthAdjust="spacingAndGlyphs">12.1</tspan></text>
<text font-family="'Liberation Sans', 'IPAGothic', sans-serif" font-weight="normal" font-size="9.77" fill="#000"><tspan x="175.03" y="263.61" textLength="56.75" lengthAdjust="spacingAndGlyphs">ルーマニア人</tspan></text>
<text font-family="'Liberation Sans', sans-serif" font-weight="normal" font-size="9.86" fill="#000"><tspan x="194.06" y="276.90" textLength="17.66" lengthAdjust="spacingAndGlyphs">12.5</tspan></text>
<text font-family="'Liberation Sans', 'IPAGothic', sans-serif" font-weight="normal" font-size="13.04" fill="#000"><tspan x="262.41" y="265.56" textLength="59.23" lengthAdjust="spacingAndGlyphs">民族構成</tspan><tspan x="315.64" y="265.56" textLength="11.79" lengthAdjust="spacingAndGlyphs">（</tspan><tspan x="328.14" y="265.56" textLength="29.47" lengthAdjust="spacingAndGlyphs">2001</tspan><tspan x="358.09" y="265.56" textLength="89.36" lengthAdjust="spacingAndGlyphs"> 年センサス、</tspan><tspan x="443.41" y="265.56" textLength="11.46" lengthAdjust="spacingAndGlyphs">%</tspan><tspan x="455.00" y="265.56" textLength="17.14" lengthAdjust="spacingAndGlyphs">）</tspan></text>
<text font-family="'Liberation Sans', 'IPAGothic', sans-serif" font-weight="normal" font-size="10.66" fill="#000"><tspan x="525.11" y="264.06" textLength="55.66" lengthAdjust="spacingAndGlyphs">ブルガリア人</tspan></text>
<text font-family="'Liberation Sans', sans-serif" font-weight="normal" font-size="9.86" fill="#000"><tspan x="568.31" y="276.90" textLength="10.85" lengthAdjust="spacingAndGlyphs">6.1</tspan></text>
<text font-family="'Liberation Sans', 'IPAGothic', sans-serif" font-weight="normal" font-size="11.63" fill="#000"><tspan x="589.07" y="264.30" textLength="58.46" lengthAdjust="spacingAndGlyphs">ｸﾘﾐｱ･ﾀﾀｰﾙ人</tspan></text>
<text font-family="'Liberation Sans', sans-serif" font-weight="normal" font-size="9.86" fill="#000"><tspan x="609.93" y="276.90" textLength="18.72" lengthAdjust="spacingAndGlyphs">12.0</tspan></text>
<text font-family="'Liberation Sans', sans-serif" font-weight="normal" font-size="9.86" fill="#000"><tspan x="636.16" y="276.90" textLength="11.13" lengthAdjust="spacingAndGlyphs">0.5</tspan></text>
<text font-family="'Liberation Sans', 'IPAGothic', sans-serif" font-weight="normal" font-size="13.63" fill="#000"><tspan x="235.80" y="616.45" textLength="29.95" lengthAdjust="spacingAndGlyphs">西部</tspan></text>
<text font-family="'Liberation Sans', 'IPAGothic', sans-serif" font-weight="normal" font-size="13.08" fill="#000"><tspan x="514.84" y="615.58" textLength="30.53" lengthAdjust="spacingAndGlyphs">東部</tspan></text>
<text font-family="'Liberation Sans', 'IPAGothic', sans-serif" font-weight="normal" font-size="13.37" fill="#000"><tspan x="596.15" y="615.03" textLength="16.07" lengthAdjust="spacingAndGlyphs">（</tspan><tspan x="611.90" y="615.03" textLength="31.94" lengthAdjust="spacingAndGlyphs">ｸﾘﾐｱ</tspan><tspan x="642.98" y="615.03" textLength="14.64" lengthAdjust="spacingAndGlyphs">）</tspan></text>
<text font-family="'Liberation Sans', 'IPAGothic', sans-serif" font-weight="normal" font-size="14.42" fill="#000"><tspan x="152.29" y="650.83" textLength="79.07" lengthAdjust="spacingAndGlyphs">ウクライナ人</tspan></text>
<text font-family="'Liberation Sans', 'IPAGothic', sans-serif" font-weight="normal" font-size="14.42" fill="#000"><tspan x="253.66" y="650.83" textLength="55.03" lengthAdjust="spacingAndGlyphs">ロシア人</tspan></text>
<text font-family="'Liberation Sans', 'IPAGothic', sans-serif" font-weight="normal" font-size="13.93" fill="#000"><tspan x="332.23" y="650.72" textLength="44.00" lengthAdjust="spacingAndGlyphs">その他</tspan></text>
<text font-family="'Liberation Sans', 'IPAGothic', sans-serif" font-weight="normal" font-size="13.59" fill="#000"><tspan x="402.51" y="650.61" textLength="58.57" lengthAdjust="spacingAndGlyphs">特定民族</tspan><tspan x="456.74" y="650.61" textLength="10.71" lengthAdjust="spacingAndGlyphs">（</tspan><tspan x="470.40" y="650.61" textLength="88.51" lengthAdjust="spacingAndGlyphs">欄外に民族名</tspan><tspan x="550.51" y="650.61" textLength="19.29" lengthAdjust="spacingAndGlyphs">・</tspan><tspan x="567.81" y="650.61" textLength="43.05" lengthAdjust="spacingAndGlyphs">構成比</tspan><tspan x="611.32" y="650.61" textLength="13.93" lengthAdjust="spacingAndGlyphs">）</tspan></text>
<text font-family="'Liberation Sans', 'IPAGothic', sans-serif" font-size="14.0"><tspan x="63.10" y="468.52">ザ</tspan><tspan x="63.10" y="481.90">カ</tspan><tspan x="63.10" y="494.17">ル</tspan><tspan x="63.10" y="507.50">パ</tspan><tspan x="63.10" y="518.65">チ</tspan><tspan x="63.10" y="530.99">ア</tspan><tspan x="63.10" y="544.31">州</tspan></text>
<text font-family="'Liberation Sans', 'IPAGothic', sans-serif" font-size="14.0"><tspan x="84.96" y="467.85">リ</tspan><tspan x="84.96" y="482.31">ヴ</tspan><tspan x="84.96" y="493.29">ォ</tspan><tspan x="84.96" y="504.77">フ</tspan><tspan x="84.96" y="517.99">州</tspan></text>
<text font-family="'Liberation Sans', 'IPAGothic', sans-serif" font-size="14.0"><tspan x="106.82" y="468.94">ヴ</tspan><tspan x="106.82" y="479.72">ォ</tspan><tspan x="106.82" y="491.86">ル</tspan><tspan x="106.82" y="504.32">イ</tspan><tspan x="106.82" y="515.01">ニ</tspan><tspan x="106.82" y="526.38">州</tspan></text>
<text font-family="'Liberation Sans', 'IPAGothic', sans-serif" font-size="14.0"><tspan x="128.68" y="467.71">リ</tspan><tspan x="128.68" y="481.86">ヴ</tspan><tspan x="128.68" y="495.23">ネ</tspan><tspan x="128.68" y="508.53">州</tspan></text>
<text font-family="'Liberation Sans', 'IPAGothic', sans-serif" font-size="14.0"><tspan x="150.54" y="467.13">テ</tspan><tspan x="150.54" y="479.74">ル</tspan><tspan x="150.54" y="491.59">ノ</tspan><tspan x="150.54" y="504.90">ポ</tspan><tspan x="150.54" y="517.70">リ</tspan><tspan x="150.54" y="531.41">州</tspan></text>
<text font-family="'Liberation Sans', 'IPAGothic', sans-serif" font-size="14.0"><tspan x="172.40" y="468.02">イ</tspan><tspan x="172.40" y="480.14">ワ</tspan><tspan x="172.40" y="492.46">ノ</tspan><tspan x="172.40" y="503.66">フ</tspan><tspan x="172.40" y="515.98">ラ</tspan><tspan x="172.40" y="528.52">ン</tspan><tspan x="172.40" y="539.51">コ</tspan><tspan x="172.40" y="550.63">フ</tspan><tspan x="172.40" y="562.67">ス</tspan><tspan x="172.40" y="575.77">ク</tspan><tspan x="172.40" y="589.58">州</tspan></text>
<text font-family="'Liberation Sans', 'IPAGothic', sans-serif" font-size="14.0"><tspan x="194.26" y="467.73">チ</tspan><tspan x="194.26" y="477.31">ェ</tspan><tspan x="194.26" y="488.37">ル</tspan><tspan x="194.26" y="500.16">ノ</tspan><tspan x="194.26" y="511.05">フ</tspan><tspan x="194.26" y="523.27">ツ</tspan><tspan x="194.26" y="533.95">ィ</tspan><tspan x="194.26" y="547.34">州</tspan></text>
<text font-family="'Liberation Sans', 'IPAGothic', sans-serif" font-size="14.0"><tspan x="216.12" y="466.60">フ</tspan><tspan x="216.12" y="479.32">メ</tspan><tspan x="216.12" y="492.38">リ</tspan><tspan x="216.12" y="503.69">ニ</tspan><tspan x="216.12" y="514.51">ツ</tspan><tspan x="216.12" y="527.93">キ</tspan><tspan x="217.80" y="529.24" rotate="90">ー</tspan><tspan x="216.12" y="555.19">州</tspan></text>
<text font-family="'Liberation Sans', 'IPAGothic', sans-serif" font-size="14.0"><tspan x="237.98" y="468.60">ジ</tspan><tspan x="237.98" y="480.98">ト</tspan><tspan x="237.98" y="493.36">ミ</tspan><tspan x="237.98" y="505.42">ル</tspan><tspan x="237.98" y="518.15">州</tspan></text>
<text font-family="'Liberation Sans', 'IPAGothic', sans-serif" font-size="14.0"><tspan x="259.84" y="469.14">ヴ</tspan><tspan x="259.84" y="480.26">ィ</tspan><tspan x="259.84" y="492.64">ン</tspan><tspan x="259.84" y="502.98">ニ</tspan><tspan x="259.84" y="513.81">ツ</tspan><tspan x="259.84" y="523.94">ァ</tspan><tspan x="259.84" y="537.58">州</tspan></text>
<text font-family="'Liberation Sans', 'IPAGothic', sans-serif" font-size="14.0"><tspan x="281.70" y="468.57">キ</tspan><tspan x="281.70" y="480.58">エ</tspan><tspan x="281.70" y="491.36">フ</tspan><tspan x="281.70" y="505.40">州</tspan></text>
<text font-family="'Liberation Sans', 'IPAGothic', sans-serif" font-size="14.0"><tspan x="303.56" y="468.53">キ</tspan><tspan x="303.56" y="480.48">エ</tspan><tspan x="303.56" y="491.18">フ</tspan><tspan x="303.56" y="505.43">市</tspan></text>
<text font-family="'Liberation Sans', 'IPAGothic', sans-serif" font-size="14.0"><tspan x="325.42" y="467.88">チ</tspan><tspan x="325.42" y="477.75">ェ</tspan><tspan x="325.42" y="489.08">ル</tspan><tspan x="325.42" y="499.72">ニ</tspan><tspan x="325.42" y="512.18">ゴ</tspan><tspan x="325.42" y="523.32">フ</tspan><tspan x="325.42" y="536.78">州</tspan></text>
<text font-family="'Liberation Sans', 'IPAGothic', sans-serif" font-size="14.0"><tspan x="347.28" y="467.76">チ</tspan><tspan x="347.28" y="477.40">ェ</tspan><tspan x="347.28" y="488.52">ル</tspan><tspan x="347.28" y="501.28">カ</tspan><tspan x="347.28" y="511.40">ッ</tspan><tspan x="347.28" y="523.07">ス</tspan><tspan x="347.28" y="533.54">ィ</tspan><tspan x="347.28" y="547.00">州</tspan></text>
<text font-family="'Liberation Sans', 'IPAGothic', sans-serif" font-size="14.0"><tspan x="369.14" y="468.29">キ</tspan><tspan x="369.14" y="480.18">ロ</tspan><tspan x="369.14" y="493.74">ヴ</tspan><tspan x="369.14" y="504.93">ォ</tspan><tspan x="369.14" y="518.92">グ</tspan><tspan x="369.14" y="531.58">ラ</tspan><tspan x="370.82" y="532.96" rotate="90">ー</tspan><tspan x="369.14" y="558.65">ド</tspan><tspan x="369.14" y="572.29">州</tspan></text>
<text font-family="'Liberation Sans', 'IPAGothic', sans-serif" font-size="14.0"><tspan x="391.00" y="468.90">ポ</tspan><tspan x="391.00" y="481.28">ル</tspan><tspan x="391.00" y="494.15">タ</tspan><tspan x="391.00" y="508.56">ヴ</tspan><tspan x="391.00" y="518.64">ァ</tspan><tspan x="391.00" y="532.08">州</tspan></text>
<text font-family="'Liberation Sans', 'IPAGothic', sans-serif" font-size="14.0"><tspan x="412.86" y="467.01">ス</tspan><tspan x="412.86" y="479.36">ム</tspan><tspan x="412.86" y="489.53">ィ</tspan><tspan x="412.86" y="503.20">州</tspan></text>
<text font-family="'Liberation Sans', 'IPAGothic', sans-serif" font-size="14.0"><tspan x="434.72" y="465.84">ハ</tspan><tspan x="434.72" y="476.89">リ</tspan><tspan x="434.72" y="488.42">コ</tspan><tspan x="434.72" y="499.13">フ</tspan><tspan x="434.72" y="512.10">州</tspan></text>
<text font-family="'Liberation Sans', 'IPAGothic', sans-serif" font-size="14.0"><tspan x="456.58" y="467.38">ル</tspan><tspan x="456.58" y="480.91">ガ</tspan><tspan x="456.58" y="492.91">ン</tspan><tspan x="456.58" y="504.36">ス</tspan><tspan x="456.58" y="517.27">ク</tspan><tspan x="456.58" y="530.87">州</tspan></text>
<text font-family="'Liberation Sans', 'IPAGothic', sans-serif" font-size="14.0"><tspan x="478.44" y="467.97">ド</tspan><tspan x="478.44" y="481.38">ネ</tspan><tspan x="478.44" y="493.90">ツ</tspan><tspan x="478.44" y="506.84">ク</tspan><tspan x="478.44" y="520.18">州</tspan></text>
<text font-family="'Liberation Sans', 'IPAGothic', sans-serif" font-size="14.0"><tspan x="500.30" y="468.17">ド</tspan><tspan x="500.30" y="479.19">ニ</tspan><tspan x="500.30" y="488.64">エ</tspan><tspan x="500.30" y="501.62">プ</tspan><tspan x="500.30" y="513.21">ロ</tspan><tspan x="500.30" y="525.27">ペ</tspan><tspan x="500.30" y="536.36">ト</tspan><tspan x="500.30" y="548.15">ロ</tspan><tspan x="500.30" y="559.23">フ</tspan><tspan x="500.30" y="571.30">ス</tspan><tspan x="500.30" y="584.43">ク</tspan><tspan x="500.30" y="598.26">州</tspan></text>
<text font-family="'Liberation Sans', 'IPAGothic', sans-serif" font-size="14.0"><tspan x="522.16" y="468.62">ザ</tspan><tspan x="522.16" y="483.05">ポ</tspan><tspan x="522.16" y="494.67">ロ</tspan><tspan x="522.16" y="507.91">ジ</tspan><tspan x="522.16" y="518.77">エ</tspan><tspan x="522.16" y="530.81">州</tspan></text>
<text font-family="'Liberation Sans', 'IPAGothic', sans-serif" font-size="14.0"><tspan x="544.02" y="465.86">ニ</tspan><tspan x="544.02" y="475.85">コ</tspan><tspan x="544.02" y="488.00">ラ</tspan><tspan x="544.02" y="499.85">エ</tspan><tspan x="544.02" y="510.42">フ</tspan><tspan x="544.02" y="524.21">州</tspan></text>
<text font-family="'Liberation Sans', 'IPAGothic', sans-serif" font-size="14.0"><tspan x="565.88" y="468.08">オ</tspan><tspan x="565.88" y="482.04">デ</tspan><tspan x="565.88" y="492.59">ッ</tspan><tspan x="565.88" y="505.31">サ</tspan><tspan x="565.88" y="519.06">州</tspan></text>
<text font-family="'Liberation Sans', 'IPAGothic', sans-serif" font-size="14.0"><tspan x="587.74" y="465.87">ヘ</tspan><tspan x="587.74" y="476.10">ル</tspan><tspan x="587.74" y="488.01">ソ</tspan><tspan x="587.74" y="500.06">ン</tspan><tspan x="587.74" y="512.95">州</tspan></text>
<text font-family="'Liberation Sans', 'IPAGothic', sans-serif" font-size="14.0"><tspan x="609.60" y="468.36">ク</tspan><tspan x="609.60" y="481.97">リ</tspan><tspan x="609.60" y="495.58">ミ</tspan><tspan x="609.60" y="508.18">ア</tspan><tspan x="609.60" y="522.42">自</tspan><tspan x="609.60" y="537.11">治</tspan><tspan x="609.60" y="551.73">共</tspan><tspan x="609.60" y="565.99">和</tspan><tspan x="609.60" y="580.25">国</tspan></text>
<text font-family="'Liberation Sans', 'IPAGothic', sans-serif" font-size="14.0"><tspan x="631.46" y="467.72">セ</tspan><tspan x="631.46" y="481.06">ヴ</tspan><tspan x="631.46" y="490.99">ァ</tspan><tspan x="631.46" y="502.91">ス</tspan><tspan x="631.46" y="515.56">ト</tspan><tspan x="631.46" y="529.38">ポ</tspan><tspan x="631.46" y="542.08">リ</tspan><tspan x="631.46" y="555.96">市</tspan></text>
</g>
</svg>
</body></html>
